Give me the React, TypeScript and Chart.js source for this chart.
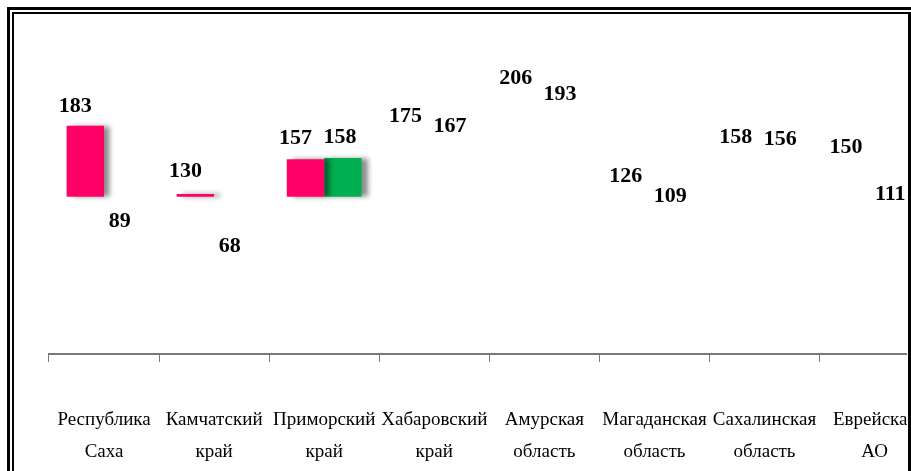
import React, { useEffect, useRef } from 'react';
import { Chart, registerables } from 'chart.js';

Chart.register(...registerables);

// ---- data ----
const regions: string[][] = [
  ['Республика', 'Саха'],
  ['Камчатский', 'край'],
  ['Приморский', 'край'],
  ['Хабаровский', 'край'],
  ['Амурская', 'область'],
  ['Магаданская', 'область'],
  ['Сахалинская', 'область'],
  ['Еврейская', 'АО'],
];
const series1: number[] = [183, 130, 157, 175, 206, 126, 158, 150];
const series2: number[] = [89, 68, 158, 167, 193, 109, 156, 111];
// Only the first three groups show visible bars, drawn from this base value
const shownBarBase = 128;
const shownBarCount = 3;

const COLOR1 = '#FF0066';
const COLOR2 = '#00B050';

function visibleBars(values: number[]) {
  return values.map((v, i) => (i < shownBarCount && v > shownBarBase ? [shownBarBase, v] : null));
}

const labelShift = [-10, -3];

const valueLabels = {
  id: 'valueLabels',
  afterDatasetsDraw(chart: any) {
    const { ctx } = chart;
    const yS = chart.scales.y;
    const xS = chart.scales.x;
    ctx.save();
    ctx.font = 'bold 22px "Liberation Serif", "Times New Roman", serif';
    ctx.fillStyle = '#000';
    ctx.textAlign = 'center';
    ctx.textBaseline = 'middle';
    [series1, series2].forEach((vals, di) => {
      const meta = chart.getDatasetMeta(di);
      vals.forEach((v, i) => {
        const el = meta.data[i];
        let x = el && isFinite(el.x) ? el.x : NaN;
        if (!isFinite(x)) {
          const w = (xS.width / regions.length) * 0.68;
          x = xS.getPixelForValue(i) + (di === 0 ? -w / 4 : w / 4);
        }
        ctx.fillText(String(v), x + labelShift[di], yS.getPixelForValue(v) - 25);
      });
    });
    ctx.restore();
  },
};

const barShadow = {
  id: 'barShadow',
  beforeDatasetDraw(chart: any) {
    const c = chart.ctx;
    c.save();
    c.shadowColor = 'rgba(0,0,0,0.45)';
    c.shadowBlur = 5;
    c.shadowOffsetX = 6;
    c.shadowOffsetY = 0;
  },
  afterDatasetDraw(chart: any) {
    chart.ctx.restore();
  },
};

function ChartView() {
  const ref = useRef<HTMLCanvasElement | null>(null);
  useEffect(() => {
    if (!ref.current) return;
    const chart = new Chart(ref.current, {
      type: 'bar',
      data: {
        labels: regions,
        datasets: [
          {
            label: 'Ряд 1',
            data: visibleBars(series1) as any,
            backgroundColor: COLOR1,
            borderWidth: 0,
            yAxisID: 'y2',
          },
          {
            label: 'Ряд 2',
            data: visibleBars(series2) as any,
            backgroundColor: COLOR2,
            borderWidth: 0,
            yAxisID: 'y2',
          },
        ],
      },
      options: {
        responsive: false,
        animation: false,
        devicePixelRatio: 1,
        layout: { padding: { left: 49, right: 28.5, top: 20, bottom: 3 } },
        datasets: { bar: { categoryPercentage: 0.68, barPercentage: 1 } },
        plugins: {
          legend: { display: false },
          tooltip: { enabled: false },
        },
        scales: {
          x: {
            offset: true,
            afterFit: (scale: any) => {
              scale.height = 114;
            },
            grid: {
              display: true,
              drawOnChartArea: false,
              drawTicks: true,
              tickLength: 8,
              color: '#7a7a7a',
              lineWidth: 1,
            },
            border: { display: true, color: '#7a7a7a', width: 2 },
            ticks: {
              color: '#000',
              autoSkip: false,
              maxRotation: 0,
              minRotation: 0,
              padding: 42,
              font: { family: '"Liberation Serif", "Times New Roman", serif', size: 19, lineHeight: 32 / 19 },
            },
          },
          y: { display: false, min: 0, max: 275 },
          y2: { display: false, min: 6, max: 265 },
        },
      },
      plugins: [barShadow, valueLabels],
    });
    return () => chart.destroy();
  }, []);
  return <canvas ref={ref} width={960} height={471} style={{ position: 'absolute', left: -14, top: -14, width: 960, height: 471 }} />;
}

export default function App() {
  useEffect(() => {
    document.body.style.margin = '0';
  }, []);
  const line = (s: React.CSSProperties) => <div style={{ position: 'absolute', background: '#000', ...s }} />;
  return (
    <div style={{ position: 'fixed', left: 0, top: 0, width: 911, height: 471, background: '#fff', overflow: 'hidden' }}>
      <div style={{ position: 'absolute', left: 14, top: 14, width: 893, height: 457, overflow: 'hidden' }}>
        <ChartView />
      </div>
      {line({ left: 7, top: 7, width: 904, height: 3 })}
      {line({ left: 12, top: 12, width: 896, height: 1.5 })}
      {line({ left: 7, top: 7, width: 3, height: 464 })}
      {line({ left: 12, top: 12, width: 1.5, height: 459 })}
      {line({ left: 908, top: 12, width: 3, height: 459 })}
    </div>
  );
}
